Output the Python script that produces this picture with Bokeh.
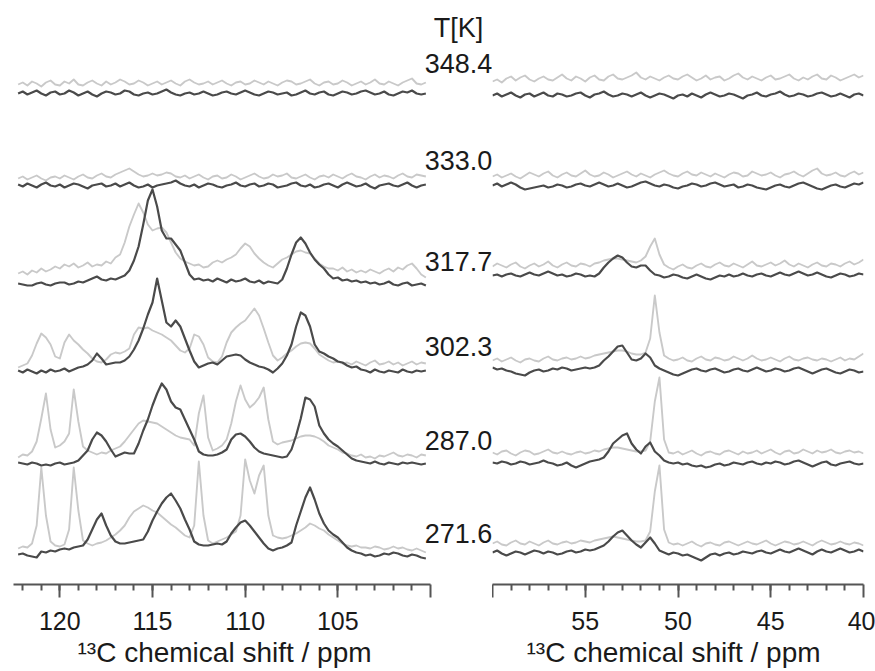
import numpy as np
from bokeh.plotting import figure
from bokeh.models import Range1d, FixedTicker, LinearAxis, Title
from bokeh.layouts import row
from bokeh.embed import file_html
from bokeh.resources import INLINE
from bokeh.core.properties import value

# ---------------- data ----------------
temps = ["348.4", "333.0", "317.7", "302.3", "287.0", "271.6"]
header = "T[K]"

# ppm grids (start, step) of the two spectral windows
left_start, left_step = 122.25, 0.25
right_start, right_step = 60.0, 0.25

# left window 122.25 ... 100.25 ppm (dark and light trace of every temperature)
d348L = [0,2,-1,1,3,0,-2,1,2,-1, 0,3,1,-2,0,2,-1,-3,0,2, 1,-1,0,3,2,-1,-2,0,1,-1,
         0,2,4,1,-1,-2,0,1,-1,0, 2,0,-2,-1,1,2,0,-1,1,3, 1,-1,-2,0,2,1,-1,0,1,-2,
         -1,1,3,0,-1,1,2,-1,-2,0, 2,1,-1,0,2,3,1,-1,0,2, -1,-2,0,2,1,3,0,-1,0]
l348L = [9,11,8,12,10,7,11,13,9,8, 12,10,14,9,8,11,13,10,8,12, 9,11,14,12,9,10,13,11,8,10,
         12,9,11,13,10,8,12,14,11,9, 10,12,9,11,13,10,8,11,12,9, 10,13,11,9,12,10,8,11,13,12,
         9,10,12,14,10,8,11,12,9,10, 13,11,8,10,12,9,11,14,10,9, 12,10,8,11,13,15,10,9,11]
d333L = [1,-1,2,0,-2,1,3,0,-1,1, -2,0,2,1,-1,-3,0,1,2,-1, 0,2,-1,1,3,0,-2,-1,1,-2,
         0,1,2,3,5,2,0,-1,1,-2, 0,2,1,-1,-2,0,1,3,0,-1, 1,2,-1,0,2,1,-2,-1,0,2,
         3,0,-1,1,-2,-1,1,2,0,-2, 1,3,1,-1,0,2,-1,-3,0,1, 2,0,-1,1,3,0,-2,0,1]
l333L = [7,9,6,8,10,7,5,8,9,7, 10,8,6,9,11,8,7,10,12,9, 8,11,13,15,17,14,11,9,10,12,
         10,11,13,12,9,8,10,7,9,11, 8,6,9,10,7,8,11,9,6,8, 10,12,9,7,8,11,9,10,12,8,
         7,9,11,8,6,9,10,8,11,9, 7,10,12,9,8,6,9,11,8,10, 9,7,10,12,9,8,11,10,9]
d317L = [1,0,-1,-1,1,2,0,-1,1,2, 2,0,1,3,2,4,6,8,5,4, 6,5,7,9,14,24,38,60,84,95,
         78,54,46,46,40,34,22,10,5,6, 4,5,3,6,4,2,5,3,4,6, 3,2,4,1,3,2,1,5,16,30,
         42,47,41,32,25,20,16,10,6,7, 4,5,3,4,2,3,1,2,0,1, 3,0,-1,1,2,-1,0,1,-1]
l317L = [11,13,10,14,12,16,13,15,18,16, 20,18,21,17,19,22,18,20,19,23, 21,27,30,42,58,70,81,72,60,54,
         56,57,52,42,32,26,23,21,19,20, 17,18,22,24,22,25,27,30,36,41, 38,31,26,22,19,17,21,25,27,30,
         33,34,32,31,26,21,18,16,16,14, 17,13,15,12,14,12,15,13,11,14, 16,13,17,15,19,21,16,10,7]
d302L = [0,-2,1,-1,-3,0,-2,1,-1,0, 2,-1,1,3,4,6,10,17,12,6, 7,8,8,10,14,21,30,42,56,68,
         92,70,48,44,50,44,32,20,9,3, 5,7,8,6,10,14,15,16,15,11, 8,6,4,3,1,-2,2,7,15,26,
         44,58,55,44,26,19,17,14,12,9, 8,5,3,4,1,0,-2,1,-1,-2, 0,-1,-2,1,-1,-2,0,-1,0]
l302L = [3,5,7,15,27,37,33,26,14,12, 28,36,30,26,21,17,12,9,8,11, 16,18,17,19,22,36,43,42,43,40,
         38,36,33,30,25,20,18,22,36,34, 26,13,9,8,14,28,38,43,47,50, 56,62,55,42,28,15,10,13,17,20,
         24,27,28,27,22,16,13,10,8,9, 7,8,6,9,7,5,8,10,6,7, 9,6,8,5,7,9,6,8,7]
d287L = [1,0,-1,1,0,-2,-1,-2,0,1, -1,0,1,3,8,13,24,31,28,22, 14,7,9,11,10,10,20,33,44,58,
         70,80,74,62,56,54,44,34,24,12, 9,8,8,9,11,14,24,29,30,27, 22,16,12,10,9,8,7,6,7,14,
         28,45,66,64,57,38,30,24,20,17, 13,9,5,3,2,1,0,2,0,-1, 1,0,-1,1,0,1,0,-1,0]
l287L = [6,9,8,12,22,45,70,34,16,18, 22,30,74,42,17,13,11,9,11,10, 13,15,17,22,28,34,40,43,42,41,
         40,37,34,31,28,26,25,24,18,50, 68,26,13,15,18,24,40,62,78,64, 56,60,66,76,44,22,19,21,22,23,
         25,27,28,28,27,25,22,18,16,14, 11,10,8,7,9,6,7,5,8,7, 9,11,8,7,9,8,6,9,8]
d271L = [1,2,0,-1,-2,4,3,5,4,6, 7,6,8,9,10,16,26,36,42,30, 20,14,12,12,13,14,15,16,24,35,
         44,52,58,62,55,47,36,26,14,11, 10,10,11,12,11,14,22,28,33,35, 30,24,18,12,7,5,7,8,10,13,
         30,44,58,68,56,42,32,25,21,18, 13,8,5,3,2,0,1,-1,0,2, 1,3,2,0,-1,1,0,-2,-3]
l271L = [7,9,8,12,30,88,40,14,10,9, 11,26,88,45,15,12,10,12,13,15, 18,21,25,30,38,44,47,50,48,45,
         43,39,35,31,28,24,20,18,30,94, 40,15,12,14,16,18,21,24,40,96, 75,62,80,90,40,20,18,17,18,20,
         22,25,28,32,30,27,25,21,18,15, 12,10,9,10,8,8,7,9,8,6, 7,9,7,8,6,5,7,5,3]

# right window 60 ... 40 ppm
d348R = [-2,0,-3,-1,1,-2,-4,-1,0,-3, -1,1,-2,-3,0,-1,-3,-2,0,1, -2,-4,-1,0,2,-1,-3,-2,0,-1,
         -3,-1,1,-2,-4,-2,0,-1,-3,-5, -2,-1,-3,0,-2,-4,-1,1,-1,-3, -2,0,-1,-3,-5,-2,-1,1,-2,-3,
         -1,0,2,-1,-3,-2,0,-1,-3,-2, 0,1,-1,-3,-2,0,-2,-4,-1,0, -2]
l348R = [12,14,11,15,17,13,16,18,14,12, 15,17,14,13,16,19,15,13,17,15, 12,16,18,14,13,17,19,15,14,16,
         18,21,16,14,17,15,13,16,18,15, 14,17,19,16,13,15,18,14,16,17, 13,15,18,20,16,14,17,15,13,16,
         18,14,15,17,19,15,13,16,14,17, 19,15,14,18,16,13,15,17,19,16, 18]
d333R = [0,2,-1,1,3,1,-2,-4,-3,-2, -1,0,-2,-1,1,0,-2,-1,1,2, 0,-1,1,3,1,-1,0,2,0,-2,
         -1,1,3,4,2,0,-1,1,0,-2, -3,-1,0,2,1,-1,0,2,3,1, -1,0,1,-2,-1,1,0,-2,-3,-4,
         -2,0,1,-1,-2,0,2,3,1,-1, -3,-4,-2,0,1,-1,-2,0,2,1, 3]
l333R = [9,11,8,10,12,9,7,10,13,11, 9,12,14,10,8,11,13,10,9,12, 15,11,9,10,13,11,8,10,12,14,
         11,9,12,10,8,11,13,15,12,10, 9,12,14,11,10,13,11,9,12,10, 8,11,13,12,9,10,14,12,10,11,
         13,10,8,11,12,14,11,9,12,15, 17,12,10,11,13,10,9,12,14,11, 13]
d317R = [9,10,8,10,11,9,8,10,12,10, 9,11,13,11,9,10,8,9,11,10, 8,9,8,11,17,22,26,29,27,22,
         18,17,19,19,14,10,9,7,8,10, 9,7,6,8,10,8,6,5,7,9, 8,10,8,9,11,9,8,10,11,9,
         8,10,12,10,9,11,13,11,9,10, 12,10,8,7,9,11,10,8,9,11, 10]
l317R = [18,21,19,17,20,22,18,16,19,21, 18,20,23,19,17,20,22,19,18,21, 20,18,21,22,24,25,26,26,25,24,
         23,22,24,28,38,46,30,20,17,15, 18,20,17,16,19,21,18,17,20,22, 19,18,21,19,17,20,23,19,18,20,
         22,19,21,24,20,18,21,19,17,20, 22,19,18,21,20,18,21,23,20,22, 25]
d302R = [3,1,2,0,-1,-3,-4,-5,-2,0, 1,-1,0,2,1,3,2,0,1,2, 3,2,3,5,10,14,19,24,25,18,
         11,10,12,17,13,5,2,0,-2,-4, -5,-3,-1,1,2,0,-1,1,2,0, -2,-1,1,2,0,-1,1,3,1,-1,
         0,2,1,-1,0,2,3,1,-1,-3, -1,1,2,0,-2,-3,-1,1,0,-2, -1]
l302R = [10,12,9,11,13,10,8,11,12,10, 9,12,14,11,10,12,13,11,12,14, 12,13,15,16,17,18,19,20,20,19,
         17,16,16,18,32,75,38,15,12,10, 11,13,10,9,12,14,11,10,13,12, 10,11,14,12,10,12,15,12,10,11,
         13,11,9,12,14,11,10,12,13,11, 10,12,11,9,11,13,10,12,11,14, 17]
d287R = [1,0,2,1,-1,0,2,1,-1,0, 1,3,1,0,-2,-1,1,-2,-4,-2, 0,2,3,4,6,12,20,24,28,30,
         20,14,10,17,21,12,8,3,1,0, 1,-1,0,-2,-3,-2,-4,-3,-1,0, -2,-1,1,0,-1,1,2,0,-1,1,
         0,2,1,-1,0,2,3,1,-1,-3, -1,1,2,-1,-2,0,1,2,0,-1, 0]
l287R = [11,9,12,13,10,8,11,13,12,9, 10,12,14,11,10,12,10,9,11,12, 10,11,13,12,14,15,16,16,15,14,
         13,12,12,13,22,62,86,24,11,10, 12,9,11,13,10,8,11,12,10,9, 12,13,11,9,12,10,11,13,10,12,
         14,11,9,12,13,10,11,14,12,10, 13,11,12,14,11,10,12,13,11,12, 10]
d271R = [3,5,2,0,2,4,3,1,3,5, 4,2,4,3,1,2,4,5,3,4, 6,5,6,8,10,14,19,23,25,20,
         15,11,8,13,18,12,5,3,1,3, 2,0,1,-1,-3,-5,-2,1,2,0, 2,3,1,2,4,3,2,4,5,3,
         2,4,6,4,3,5,7,5,3,1, 4,6,4,3,5,7,5,3,4,6, 4]
l271R = [12,14,11,10,13,15,12,11,14,12, 10,13,15,12,11,13,14,12,13,15, 14,13,15,16,17,18,19,18,17,16,
         15,14,14,15,24,64,90,26,13,11, 12,10,12,14,11,9,12,13,11,10, 13,14,12,10,12,14,12,11,13,15,
         12,10,12,14,13,11,12,14,12,10, 13,15,13,11,12,14,12,11,13,12, 10]

dark_left = [d348L, d333L, d317L, d302L, d287L, d271L]
light_left = [l348L, l333L, l317L, l302L, l287L, l271L]
dark_right = [d348R, d333R, d317R, d302R, d287R, d271R]
light_right = [l348R, l333R, l317R, l302R, l287R, l271R]

left_ticks = [100, 105, 110, 115, 120]
right_ticks = [40, 45, 50, 55, 60]
axis_title = "¹³C chemical shift / ppm"

# ---------------- layout / style ----------------
stack_offsets = [491, 399, 300, 214, 121, 29]
label_y = [521, 424, 323, 238, 144, 51]
header_y = 557
PX = 417 / 22.5           # pixels per ppm
FRAME_H = 584
DARK = "#4a4a4a"
LIGHT = "#c9c9c9"
FONT = "Liberation Sans"
TXT = "#1a1a1a"


def make_fig(width, x_start, x_end, bl, br):
    p = figure(width=width, height=671, x_range=Range1d(x_start, x_end),
               y_range=Range1d(0, FRAME_H), output_backend="svg", toolbar_location=None,
               x_axis_type=None, y_axis_type=None, min_border_left=bl, min_border_right=br,
               min_border_top=0, min_border_bottom=87)
    p.outline_line_color = None
    p.grid.visible = False
    p.background_fill_color = "white"
    p.border_fill_color = "white"
    return p


def add_axis(p, ticks, minor, bounds, hidden, title_offset):
    ax = LinearAxis()
    ax.ticker = FixedTicker(ticks=ticks, minor_ticks=minor)
    ax.bounds = bounds
    ax.major_label_overrides = {hidden: ""}
    ax.axis_line_color = "#555555"
    ax.axis_line_width = 2
    ax.major_tick_line_color = "#555555"
    ax.major_tick_line_width = 2
    ax.minor_tick_line_color = "#555555"
    ax.minor_tick_line_width = 2
    ax.major_tick_in = 0
    ax.major_tick_out = 13
    ax.minor_tick_in = 0
    ax.minor_tick_out = 6
    ax.major_label_text_font = FONT
    ax.major_label_text_font_size = "25px"
    ax.major_label_text_color = TXT
    ax.major_label_standoff = 14
    p.add_layout(ax, "below")
    t = Title(text=axis_title, align="left", offset=title_offset, text_font=FONT,
              text_font_size="28px", text_font_style="normal", text_color=TXT, standoff=5)
    p.add_layout(t, "below")


# left panel: frame 13..492 px (the gap on its right carries the temperature labels)
left_x0 = 122.5
left = make_fig(492, left_x0, left_x0 - (492 - 13) / PX, 13, 0)
add_axis(left, left_ticks, list(range(101, 123)), (100, 122.5), 100, 64)

right = make_fig(383, 60, 40, 0, 12)
add_axis(right, right_ticks, list(range(41, 60)), (40, 60), 60, 34)

for p, start, step, lights, darks in [(left, left_start, left_step, light_left, dark_left),
                                      (right, right_start, right_step, light_right, dark_right)]:
    for off, vals in zip(stack_offsets, lights):
        v = np.array(vals, dtype=float)
        x = start - step * np.arange(len(v))
        p.line(x, off + v, line_color=LIGHT, line_width=1.9, line_join="round")
    for off, vals in zip(stack_offsets, darks):
        v = np.array(vals, dtype=float)
        x = start - step * np.arange(len(v))
        p.line(x, off + v, line_color=DARK, line_width=2.2, line_join="round")

label_x = left_x0 - (458 - 13) / PX
left.text(x=[label_x] * (len(temps) + 1), y=[header_y] + label_y, text=[header] + temps,
          text_font=value(FONT), text_font_size="27px", text_align="center",
          text_baseline="middle", text_color=TXT)

layout = row(left, right)
open("out.html", "w").write(file_html(layout, INLINE))
